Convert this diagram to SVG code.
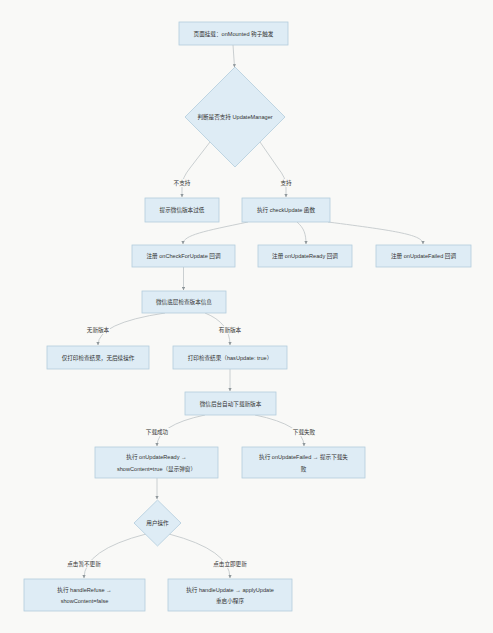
<svg xmlns="http://www.w3.org/2000/svg" width="493" height="633" viewBox="0 0 493 633">
<style>
.bg{fill:#f9f9f7}
.node rect,.node polygon{fill:#deecf5;stroke:#b3cddd;stroke-width:0.8}
text{font-family:"Liberation Sans","Noto Sans CJK SC",sans-serif;font-size:5.6px;fill:#333;text-anchor:middle;dominant-baseline:central}
.edges path{fill:none;stroke:#c4c9cc;stroke-width:0.9}
.lbl rect{fill:#f9f9f7}
</style>
<defs>
<marker id="arr" viewBox="0 0 10 10" refX="9" refY="5" markerWidth="3.2" markerHeight="3.2" markerUnits="userSpaceOnUse" orient="auto">
<path d="M0,0 L10,5 L0,10 z" fill="#8f979b"/>
</marker>
</defs>
<rect class="bg" x="0" y="0" width="493" height="633"/>
<g class="edges" id="connectors">
<path d="M233,45 L234.5,67" marker-end="url(#arr)"/>
<path d="M210,142 L190,168 Q182,178 182,186 L182,197" marker-end="url(#arr)"/>
<path d="M260,142 L278,168 Q286,178 286,186 L286,197" marker-end="url(#arr)"/>
<path d="M248,222 C205,231 183,235 183,244" marker-end="url(#arr)"/>
<path d="M297,222 C304,228 306,234 306,244" marker-end="url(#arr)"/>
<path d="M328,222 C398,231 423,235 423,244" marker-end="url(#arr)"/>
<path d="M183.5,267 L183.5,290" marker-end="url(#arr)"/>
<path d="M165,313 Q98,323 98,345" marker-end="url(#arr)"/>
<path d="M205,313 Q230,323 230,345" marker-end="url(#arr)"/>
<path d="M230,369 L230,391" marker-end="url(#arr)"/>
<path d="M205,415 Q157,425 157,446" marker-end="url(#arr)"/>
<path d="M255,415 Q304,425 304,446" marker-end="url(#arr)"/>
<path d="M157,478 L157,499" marker-end="url(#arr)"/>
<path d="M146,534 Q84,550 84,578" marker-end="url(#arr)"/>
<path d="M169,534 Q230,550 230,578" marker-end="url(#arr)"/>
</g>
<g class="lbl" id="edge-labels">
<rect x="172" y="179" width="20" height="8"/><text x="182" y="183">不支持</text>
<rect x="279" y="179" width="14" height="8"/><text x="286" y="183">支持</text>
<rect x="86" y="326" width="24" height="8"/><text x="98" y="330">无新版本</text>
<rect x="218" y="326" width="24" height="8"/><text x="230" y="330">有新版本</text>
<rect x="145" y="428" width="24" height="8"/><text x="157" y="432">下载成功</text>
<rect x="292" y="428" width="24" height="8"/><text x="304" y="432">下载失败</text>
<rect x="66" y="560" width="36" height="8"/><text x="84" y="564">点击暂不更新</text>
<rect x="212" y="560" width="36" height="8"/><text x="230" y="564">点击立即更新</text>
</g>
<g class="node" id="n-mount"><rect x="179" y="22" width="109" height="23"/><text x="233.5" y="33.5">页面挂载：onMounted 钩子触发</text></g>
<g class="node" id="n-judge"><polygon points="235,67 285,117 235,167 185,117"/><text x="235" y="117">判断是否支持 UpdateManager</text></g>
<g class="node" id="n-low"><rect x="145" y="198" width="74" height="24"/><text x="182" y="210">提示微信版本过低</text></g>
<g class="node" id="n-check"><rect x="242" y="198" width="88" height="24"/><text x="286" y="210">执行 checkUpdate 函数</text></g>
<g class="node" id="n-oncheck"><rect x="132" y="245" width="103" height="22"/><text x="183.5" y="256">注册 onCheckForUpdate 回调</text></g>
<g class="node" id="n-onready"><rect x="258" y="245" width="94" height="22"/><text x="305" y="256">注册 onUpdateReady 回调</text></g>
<g class="node" id="n-onfailed"><rect x="376" y="245" width="95" height="22"/><text x="423.5" y="256">注册 onUpdateFailed 回调</text></g>
<g class="node" id="n-wxcheck"><rect x="142" y="291" width="84" height="22"/><text x="184" y="302">微信底层检查版本信息</text></g>
<g class="node" id="n-nonew"><rect x="47" y="346" width="102" height="23"/><text x="98" y="357.5">仅打印检查结果，无后续操作</text></g>
<g class="node" id="n-hasnew"><rect x="173" y="346" width="114" height="23"/><text x="230" y="357.5">打印检查结果（hasUpdate: true）</text></g>
<g class="node" id="n-download"><rect x="185" y="392" width="91" height="23"/><text x="230.5" y="403.5">微信后台自动下载新版本</text></g>
<g class="node" id="n-ready"><rect x="95" y="447" width="123" height="31"/><text x="156.5" y="457">执行 onUpdateReady →</text><text x="156.5" y="468.5">showContent=true（显示弹窗）</text></g>
<g class="node" id="n-failed"><rect x="242" y="447" width="123" height="31"/><text x="303.5" y="457">执行 onUpdateFailed → 提示下载失</text><text x="303.5" y="468.5">败</text></g>
<g class="node" id="n-user"><polygon points="157.5,500 181,523 157.5,546 134,523"/><text x="157.5" y="523">用户操作</text></g>
<g class="node" id="n-refuse"><rect x="24" y="579" width="121" height="32"/><text x="84.5" y="589.5">执行 handleRefuse →</text><text x="84.5" y="601">showContent=false</text></g>
<g class="node" id="n-update"><rect x="168" y="579" width="124" height="32"/><text x="230" y="589.5">执行 handleUpdate → applyUpdate</text><text x="230" y="601">重启小程序</text></g>
</svg>
